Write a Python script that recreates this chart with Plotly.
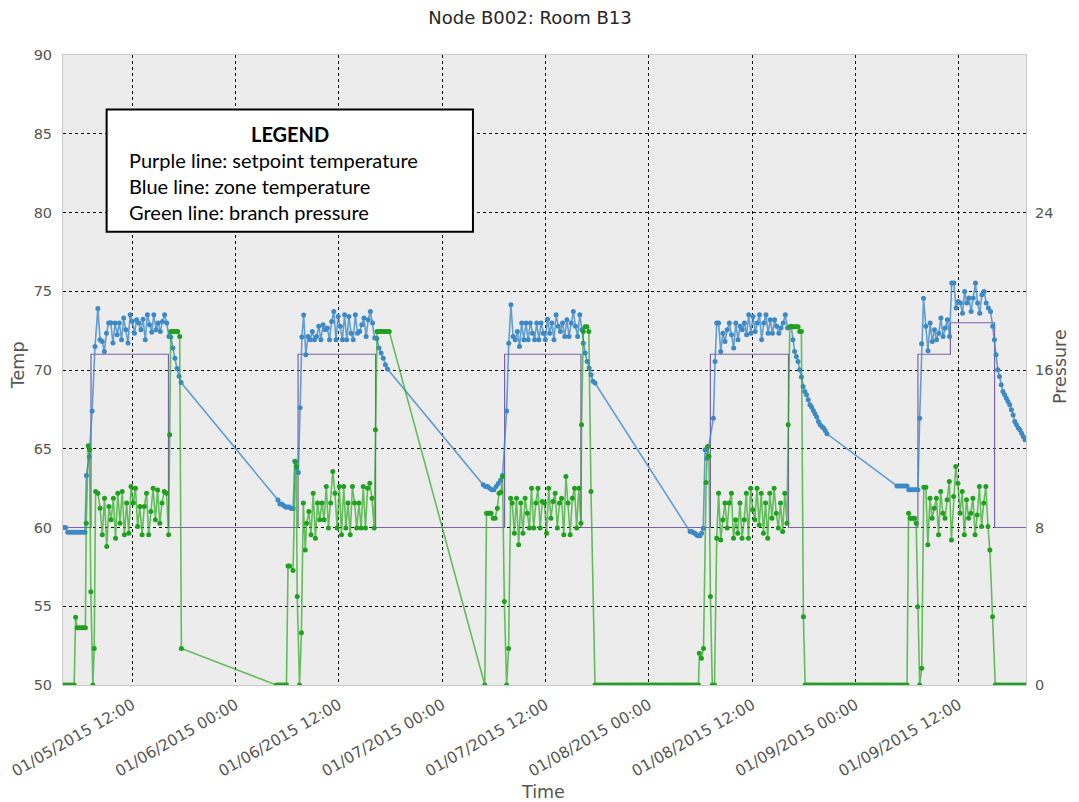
import pandas as pd
import plotly.graph_objects as go

D1, D2, D3, D4, D5 = "2015-01-05", "2015-01-06", "2015-01-07", "2015-01-08", "2015-01-09"

# ---------------- setpoint (purple) ----------------
setpoint_times = [f"{D1} 04:00", f"{D1} 07:12", f"{D1} 16:12", f"{D2} 07:15", f"{D2} 16:15",
                  f"{D3} 07:14", f"{D3} 16:06", f"{D4} 07:08", f"{D4} 16:12", f"{D5} 07:14",
                  f"{D5} 11:00", f"{D5} 16:08", f"{D5} 19:47"]
setpoint_vals = [60, 71, 60, 71, 60, 71, 60, 71, 60, 71, 73, 60, 60]

# ---------------- zone temperature (blue) ----------------
# segments: (start, end, values) -> samples evenly spaced between start and end
blue_jan05 = [
    (f"{D1} 04:00", f"{D1} 06:30", [60.0, 60.0, 59.7, 59.7, 59.7, 59.7, 59.7, 59.7, 59.7, 59.7, 59.7]),
    (f"{D1} 06:40", f"{D1} 08:00", [63.3, 64.5, 67.4, 71.5, 73.9]),
    (f"{D1} 08:15", f"{D1} 16:15", [71.92, 71.81, 71.18, 72.34, 72.98, 73.0, 71.71, 72.98, 72.24, 72.98,
                                   71.92, 73.30, 72.55, 71.71, 73.51, 73.08, 72.34, 73.19, 72.98, 72.55,
                                   73.23, 71.92, 73.51, 72.87, 72.39, 73.51, 72.55, 72.98, 72.45, 73.08,
                                   73.51, 72.98, 72.13]),
    (f"{D1} 16:28", f"{D1} 17:40", [72.1, 71.4, 70.75, 70.1, 69.6, 69.2]),
]
blue_jan06 = [
    (f"{D2} 04:55", f"{D2} 04:55", [61.75]),
    (f"{D2} 05:08", f"{D2} 06:40", [61.5, 61.5, 61.4, 61.3, 61.3, 61.3, 61.2, 61.2]),
    (f"{D2} 06:52", f"{D2} 07:54", [64.2, 63.8, 63.5, 67.6, 72.1, 73.5]),
    (f"{D2} 08:09", f"{D2} 16:09", [70.97, 72.13, 71.92, 72.45, 71.92, 72.13, 72.77, 71.92, 72.87, 72.55,
                                   72.66, 71.92, 73.08, 73.72, 71.92, 73.40, 72.77, 71.92, 73.51, 71.92,
                                   73.40, 72.34, 71.92, 73.51, 72.34, 72.45, 72.87, 73.30, 72.13, 73.19,
                                   73.72, 72.98, 72.03]),
    (f"{D2} 16:24", f"{D2} 17:38", [72.0, 71.4, 71.08, 70.75, 70.33, 70.06]),
]
blue_jan07 = [
    (f"{D3} 04:45", f"{D3} 04:45", [62.71]),
    (f"{D3} 05:00", f"{D3} 07:00", [62.6, 62.6, 62.5, 62.4, 62.4, 62.6, 62.8, 63.0, 63.3]),
    (f"{D3} 07:28", f"{D3} 07:58", [67.4, 71.7, 74.14]),
    (f"{D3} 08:13", f"{D3} 16:13", [72.13, 71.92, 72.45, 71.49, 72.98, 71.92, 72.98, 71.92, 72.98, 72.34,
                                   71.92, 72.98, 71.92, 72.98, 72.34, 71.92, 73.23, 72.34, 72.98, 71.92,
                                   73.51, 72.77, 72.45, 72.98, 72.13, 73.19, 72.13, 72.98, 73.72, 72.77,
                                   72.13, 73.51, 72.55]),
    (f"{D3} 16:22", f"{D3} 17:44", [71.7, 71.08, 70.54, 70.12, 69.7, 69.28, 69.17]),
]
blue_jan08 = [
    (f"{D4} 04:46", f"{D4} 06:18", [59.74, 59.74, 59.67, 59.63, 59.53, 59.47, 59.47, 59.63, 59.95]),
    (f"{D4} 06:31", f"{D4} 06:43", [64.93, 64.4]),
    (f"{D4} 07:29", f"{D4} 07:52", [66.94, 70.54, 72.98]),
    (f"{D4} 08:05", f"{D4} 16:05", [72.98, 71.18, 72.34, 71.81, 72.55, 72.98, 72.24, 71.39, 72.98, 71.92,
                                   72.77, 72.55, 72.98, 72.24, 73.51, 72.34, 73.40, 72.45, 72.98, 73.51,
                                   71.92, 72.98, 73.51, 72.34, 73.19, 72.34, 73.19, 72.77, 72.34, 72.66,
                                   72.98, 73.51, 72.66]),
    (f"{D4} 16:31", f"{D4} 20:40", [72.77, 71.92, 71.18, 70.86, 70.54, 70.01, 69.55, 68.95, 68.64, 68.43,
                                   68.11, 67.79, 67.65, 67.43, 67.22, 67.01, 66.73, 66.52, 66.42, 66.31,
                                   66.16, 65.95]),
]
blue_jan09 = [
    (f"{D5} 04:48", f"{D5} 05:58", [62.64, 62.64, 62.64, 62.64, 62.64, 62.64]),
    (f"{D5} 06:10", f"{D5} 07:14", [62.39, 62.39, 62.39, 62.39, 62.39, 62.39]),
    (f"{D5} 07:26", f"{D5} 07:53", [66.94, 71.66, 74.56]),
    (f"{D5} 08:09", f"{D5} 15:40", [72.77, 71.22, 72.98, 71.81, 72.55, 71.92, 72.34, 73.30, 72.13, 72.66,
                                   73.19, 72.13, 75.52, 75.52, 73.93, 74.35, 74.25, 73.61, 74.99, 74.25,
                                   74.57, 73.72, 74.57, 75.52, 74.25, 73.61, 74.78, 74.99, 74.25, 73.93,
                                   73.72]),
    (f"{D5} 15:55", f"{D5} 19:40", [72.77, 71.92, 70.97, 70.01, 69.59, 69.06, 68.64, 68.43, 68.21, 68.0,
                                   67.79, 67.47, 67.15, 66.73, 66.52, 66.31, 66.2, 65.99, 65.78, 65.57]),
]

# ---------------- branch pressure (green) ----------------
green_jan05 = [
    (f"{D1} 04:00", f"{D1} 05:15", [0, 0, 0, 0, 0, 0]),
    (f"{D1} 05:25", f"{D1} 05:25", [3.44]),
    (f"{D1} 05:35", f"{D1} 06:33", [2.91, 2.91, 2.91, 2.91, 2.91]),
    (f"{D1} 06:39", f"{D1} 06:39", [8.22]),
    (f"{D1} 06:53", f"{D1} 07:11", [12.15, 11.94, 4.74]),
    (f"{D1} 07:25", f"{D1} 07:44", [0, 1.86, 9.83]),
    (f"{D1} 08:00", f"{D1} 16:13", [9.74, 8.98, 7.63, 9.49, 7.03, 9.07, 8.39, 9.49, 7.46, 9.74,
                                   8.22, 9.83, 7.63, 9.24, 7.71, 10.08, 9.24, 10.0, 8.05, 9.07,
                                   7.63, 9.07, 9.74, 7.63, 8.81, 10.0, 8.39, 9.91, 8.22, 9.24,
                                   9.83, 9.74, 7.63]),
    (f"{D1} 16:20", f"{D1} 16:20", [12.71]),
    (f"{D1} 16:28", f"{D1} 17:16", [17.96, 17.96, 17.96, 17.96, 17.96]),
    (f"{D1} 17:30", f"{D1} 17:42", [17.7, 1.86]),
]
green_jan06 = [
    (f"{D2} 04:44", f"{D2} 05:54", [0, 0, 0, 0, 0, 0]),
    (f"{D2} 06:05", f"{D2} 06:16", [6.05, 6.05]),
    (f"{D2} 06:40", f"{D2} 06:40", [5.81]),
    (f"{D2} 06:56", f"{D2} 07:09", [11.35, 11.1, 4.49]),
    (f"{D2} 07:25", f"{D2} 08:05", [0, 2.66, 9.24, 6.86]),
    (f"{D2} 08:15", f"{D2} 16:05", [8.22, 8.81, 7.63, 9.74, 7.46, 9.24, 8.39, 9.24, 8.39, 10.08,
                                   7.97, 9.24, 10.85, 9.74, 7.97, 10.08, 7.63, 10.08, 7.97, 9.24,
                                   7.63, 10.08, 9.24, 7.97, 9.24, 7.97, 10.08, 7.97, 10.0, 10.25,
                                   9.49, 7.97]),
    (f"{D2} 16:14", f"{D2} 16:14", [12.97]),
    (f"{D2} 16:25", f"{D2} 17:50", [17.96, 17.96, 17.96, 17.96, 17.96, 17.96, 17.96]),
]
green_jan07 = [
    (f"{D3} 04:56", f"{D3} 04:56", [0]),
    (f"{D3} 05:08", f"{D3} 05:40", [8.73, 8.73, 8.73, 8.73]),
    (f"{D3} 05:55", f"{D3} 06:08", [8.47, 8.47]),
    (f"{D3} 06:23", f"{D3} 07:12", [8.98, 9.74, 9.79, 10.59, 4.24]),
    (f"{D3} 07:28", f"{D3} 07:56", [0, 1.86, 9.49]),
    (f"{D3} 08:07", f"{D3} 16:06", [9.24, 7.71, 9.49, 7.12, 9.24, 7.71, 9.49, 8.73, 7.97, 10.0,
                                   7.97, 9.24, 10.0, 7.97, 9.32, 9.24, 7.71, 10.0, 8.47, 9.32,
                                   9.74, 7.97, 9.24, 9.49, 7.63, 10.59, 9.24, 7.63, 9.49, 10.0,
                                   7.97, 10.0, 8.22]),
    (f"{D3} 16:10", f"{D3} 16:10", [13.22]),
    (f"{D3} 16:22", f"{D3} 17:01", [17.96, 18.2, 18.2, 17.96]),
    (f"{D3} 17:16", f"{D3} 17:44", [9.83, 0]),
    (f"{D3} 18:00", f"{D4} 05:45", [0.0] * 48),
]
green_jan08 = [
    (f"{D4} 05:51", f"{D4} 06:20", [1.61, 1.36, 1.86]),
    (f"{D4} 06:38", f"{D4} 07:08", [10.29, 12.12, 11.61, 4.49]),
    (f"{D4} 07:21", f"{D4} 07:52", [0, 0, 7.46]),
    (f"{D4} 08:05", f"{D4} 16:01", [9.74, 7.37, 8.39, 9.24, 7.97, 9.24, 9.74, 7.46, 8.39, 7.71,
                                   9.24, 7.46, 8.39, 9.74, 7.46, 10.0, 8.9, 8.39, 10.0, 8.13,
                                   9.74, 7.71, 9.24, 7.46, 9.74, 8.47, 10.0, 8.73, 7.97, 9.24,
                                   7.8, 9.74, 8.22]),
    (f"{D4} 16:10", f"{D4} 16:10", [13.22]),
    (f"{D4} 16:21", f"{D4} 17:42", [18.2, 18.2, 18.2, 18.2, 18.2, 18.2, 17.96, 17.96]),
    (f"{D4} 17:56", f"{D4} 18:08", [3.47, 0]),
    (f"{D4} 18:20", f"{D5} 05:58", [0.0] * 47),
]
green_jan09 = [
    (f"{D5} 06:09", f"{D5} 06:09", [8.73]),
    (f"{D5} 06:20", f"{D5} 07:12", [8.47, 8.47, 8.47, 8.47, 8.22, 3.98]),
    (f"{D5} 07:26", f"{D5} 08:09", [0, 0.85, 10.05, 10.05]),
    (f"{D5} 08:23", f"{D5} 15:22", [7.12, 9.49, 8.47, 8.98, 9.49, 7.63, 9.83, 8.73, 8.47, 9.41,
                                   10.34, 7.37, 9.57, 11.1, 10.25, 8.73, 9.83, 7.63, 9.41, 8.47,
                                   8.73, 9.49, 7.63, 8.64, 10.08, 8.05, 9.24, 10.08, 8.05]),
    (f"{D5} 15:35", f"{D5} 16:13", [6.86, 3.47, 0]),
    (f"{D5} 16:25", f"{D5} 19:45", [0.0] * 14),
]


def build(*days):
    xs, ys = [], []
    for day in days:
        for start, end, vals in day:
            if len(vals) == 1:
                times = [pd.Timestamp(start)]
            else:
                times = list(pd.date_range(start, end, periods=len(vals)))
            xs.extend(times)
            ys.extend(vals)
    return xs, ys


blue_x, blue_y = build(blue_jan05, blue_jan06, blue_jan07, blue_jan08, blue_jan09)
green_x, green_y = build(green_jan05, green_jan06, green_jan07, green_jan08, green_jan09)

FONT = "DejaVu Sans"
GRAY = "#555555"
fig = go.Figure()

fig.add_trace(go.Scatter(x=pd.to_datetime(setpoint_times), y=setpoint_vals, mode="lines",
                         line=dict(color="#7d62ab", width=1.2, shape="hv"),
                         showlegend=False, hoverinfo="skip"))
fig.add_trace(go.Scatter(x=blue_x, y=blue_y, mode="lines+markers",
                         line=dict(color="rgba(62,138,200,0.8)", width=1.6),
                         marker=dict(color="#3d89c6", size=5),
                         showlegend=False))
fig.add_trace(go.Scatter(x=green_x, y=green_y, mode="lines+markers", yaxis="y2",
                         line=dict(color="rgba(40,170,30,0.7)", width=1.6),
                         marker=dict(color="#1fa11f", size=5),
                         showlegend=False))

grid = dict(showgrid=True, gridcolor="#111111", gridwidth=1, griddash="dot")

# page has an 8px body margin: figure is sized so that the plot lands where the reference has it
fig.update_layout(
    width=1071, height=794,
    margin=dict(l=55.4, r=53.3, t=47.4, b=117, autoexpand=False),
    paper_bgcolor="white", plot_bgcolor="#ececec",
    font=dict(family=FONT, color=GRAY, size=14),
    title=dict(text="Node B002: Room B13", x=0.4874, xanchor="center", xref="container",
               y=0.988, yanchor="middle", yref="container",
               font=dict(family=FONT, size=18, color="#262626")),
    xaxis=dict(type="date", range=["2015-01-05 03:57", "2015-01-09 19:47"],
               tick0="2015-01-05 12:00", dtick=43200000, tickformat="%m/%d/%Y %H:%M",
               tickangle=-30, ticks="", showline=True, linecolor="#c8c8c8", mirror=True,
               automargin=False, ticklabelstandoff=4,
               tickfont=dict(size=15.5, color=GRAY), zeroline=False, **grid),
    yaxis=dict(range=[50, 90], tickvals=[50, 55, 60, 65, 70, 75, 80, 85, 90], ticks="",
               showline=True, linecolor="#c8c8c8", mirror=True, zeroline=False,
               automargin=False, ticklabelstandoff=7,
               tickfont=dict(size=14.5, color=GRAY), **grid),
    yaxis2=dict(range=[0, 32], tickvals=[0, 8, 16, 24], overlaying="y", side="right",
                showgrid=False, zeroline=False, ticks="", automargin=False, ticklabelstandoff=8,
                tickfont=dict(size=14.5, color=GRAY)),
    shapes=[dict(type="rect", xref="paper", yref="paper", x0=0.0453, x1=0.4257, y0=0.7195, y1=0.9133,
                 line=dict(color="black", width=2), fillcolor="white", layer="above")],
)

# axis titles
axis_font = dict(family=FONT, size=17.5, color=GRAY)
fig.add_annotation(xref="paper", yref="paper", x=0.4984, y=-0.170, text="Time", showarrow=False,
                   xanchor="center", yanchor="middle", font=axis_font)
fig.add_annotation(xref="paper", yref="paper", x=-0.0472, y=0.507, text="Temp", showarrow=False,
                   textangle=-90, xanchor="center", yanchor="middle", font=axis_font)
fig.add_annotation(xref="paper", yref="paper", x=1.0355, y=0.505, text="Pressure", showarrow=False,
                   textangle=-90, xanchor="center", yanchor="middle", font=axis_font)

legend_lines = ["Purple line: setpoint temperature", "Blue line: zone temperature",
                "Green line: branch pressure"]
fig.add_annotation(xref="paper", yref="paper", x=0.2355, y=0.875, text="<b>LEGEND</b>",
                   showarrow=False, xanchor="center", yanchor="middle",
                   font=dict(family="Lato", size=20, color="black"))
for i, line in enumerate(legend_lines):
    fig.add_annotation(xref="paper", yref="paper", x=0.066, y=0.8335 - i * 0.0413, text=line,
                       showarrow=False, xanchor="left", yanchor="middle",
                       font=dict(family="Lato", size=20, color="black"))

fig.write_html("out.html")
